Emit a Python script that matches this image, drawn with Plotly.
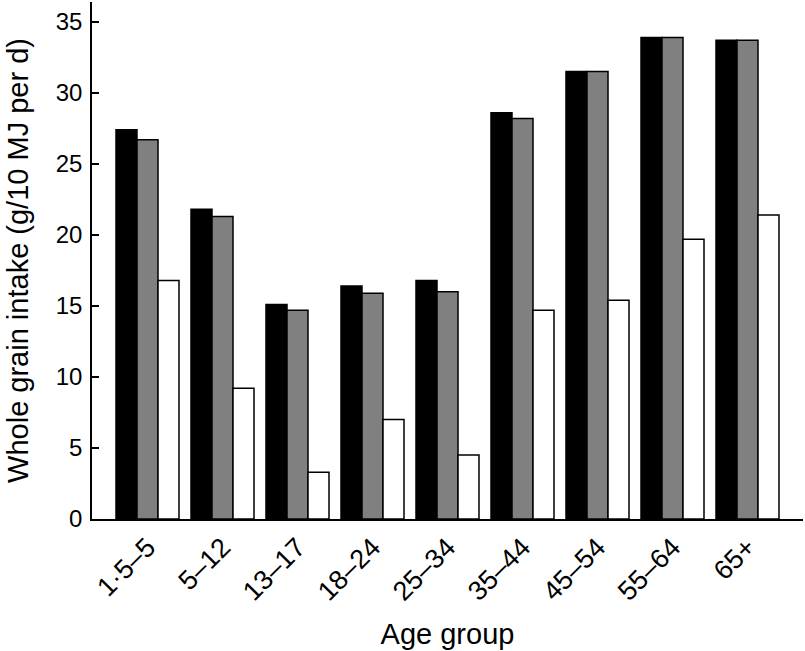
import plotly.graph_objects as go

categories = ["1·5–5", "5–12", "13–17", "18–24", "25–34", "35–44", "45–54", "55–64", "65+"]
series_black = [27.4, 21.8, 15.1, 16.4, 16.8, 28.6, 31.5, 33.9, 33.7]
series_grey = [26.7, 21.3, 14.7, 15.9, 16.0, 28.2, 31.5, 33.9, 33.7]
series_white = [16.8, 9.2, 3.3, 7.0, 4.5, 14.7, 15.4, 19.7, 21.4]
y_ticks = [0, 5, 10, 15, 20, 25, 30, 35]

FONT = "Liberation Sans, Arial, sans-serif"

fig = go.Figure()
for vals, col in [(series_black, "#000000"), (series_grey, "#808080"), (series_white, "#ffffff")]:
    fig.add_trace(go.Bar(
        x=categories, y=vals,
        marker=dict(color=col, line=dict(color="#000000", width=1.5)),
        showlegend=False,
    ))

fig.update_layout(
    width=805, height=651,
    margin=dict(l=92, r=2, t=2, b=132),
    barmode="group", bargap=0.16, bargroupgap=0,
    plot_bgcolor="white", paper_bgcolor="white",
    font=dict(family=FONT, color="black"),
)
fig.update_xaxes(
    type="category", range=[-0.74, 8.74], automargin=False,
    showline=True, linecolor="black", linewidth=1.5,
    ticks="", tickangle=-45, tickfont=dict(size=27),
    title=dict(text="Age group", font=dict(size=29), standoff=18),
    showgrid=False, zeroline=False,
)
fig.update_yaxes(
    range=[0, 36.4], tickvals=y_ticks, automargin=False,
    showline=True, linecolor="black", linewidth=1.5,
    ticks="inside", ticklen=7, tickwidth=1.5, tickcolor="black",
    tickfont=dict(size=24), ticklabelstandoff=3,
    title=dict(text="Whole grain intake (g/10 MJ per d)", font=dict(size=29), standoff=19),
    showgrid=False, zeroline=False,
)
fig.write_html("out.html", config={"displayModeBar": False},
               post_script="document.body.style.margin='0px';")
